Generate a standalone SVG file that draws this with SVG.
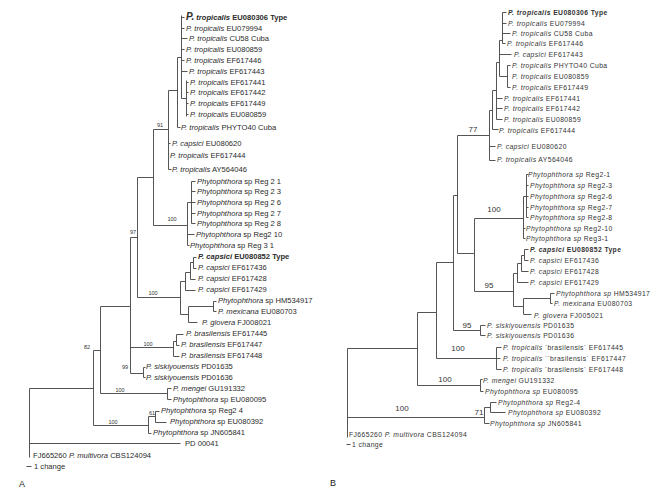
<svg xmlns="http://www.w3.org/2000/svg" width="656" height="491" viewBox="0 0 656 491">
<style>
.t{font-family:"Liberation Sans",Arial,sans-serif;font-size:7.6px;fill:#2b2b2b}
.r{font-family:"Liberation Sans",Arial,sans-serif;font-size:6.8px;letter-spacing:0.4px;fill:#333}
.i{font-style:italic}
.b{font-weight:bold}
.bs{font-family:"Liberation Sans",Arial,sans-serif;font-size:5.5px;fill:#333;text-anchor:middle}
.bsr{font-family:"Liberation Sans",Arial,sans-serif;font-size:8px;fill:#333;text-anchor:middle}
.edge{fill:none;stroke:#555;stroke-width:1}
.pl{font-family:"Liberation Sans",Arial,sans-serif;font-size:9px;fill:#222}
</style>
<rect width="656" height="491" fill="#fff"/>
<g id="connectors" transform="translate(0.5,0.5)">
<path class="edge" d="M29 388V457M29 388H93M29 443H180
M93 350V425M93 350H100M93 425H148
M148 416V433M148 416H155M148 433H151
M155 411V422M155 411H159M155 422H166
M100 306V393M100 306H130M100 393H167
M167 388V399M167 388H171M167 399H171
M130 237V373M130 237H137M130 347H173M130 373H143
M143 367V377M143 367H145M143 377H145
M173 341V356M173 341H176M173 356H179
M176 334V345M176 334H183M176 345H179
M137 177V297M137 177H153M137 297H180
M180 281V314M180 281H185M180 314H188
M188 306V322M188 306H213M188 322H197
M213 301V311M213 301H216M213 311H216
M185 272V290M185 272H190M185 290H195
M190 262V279M190 262H193M190 279H195
M193 257V268M193 257H196M193 268H196
M153 129V225M153 129H168M153 225H187
M187 202V245M187 202H191M187 234H194M187 245H189
M191 181V223M191 181H195M191 191H195M191 202H195M191 213H195M191 223H195
M168 90V169M168 90H177M168 143H170M168 169H171
M177 57V127M177 57H181M177 127H180
M181 15V98M181 98H186M181 17H184M181 28H184M181 38H187M181 49H184M181 60H184M181 71H187
M186 80V116M186 82H188M186 92H188M186 103H188M186 114H188
M26 466H31"/>
<path class="edge" d="M347 348V437M347 348H417M347 417H484
M484 407V423M484 407H490M484 423H489
M490 402V412M490 402H496M490 412H505
M417 312V385M417 312H436M417 385H480
M480 379V391M480 379H482M480 391H483
M436 262V358M436 262H453M436 358H496
M496 347V369M496 347H501M496 358H500M496 369H501
M453 195V330M453 195H457M453 330H480
M480 325V335M480 325H485M480 335H485
M457 135V253M457 135H489M457 253H474
M474 218V291M474 218H523M474 291H513
M523 196V238M523 196H526M523 228H525M523 238H525
M526 174V217M526 174H528M526 185H528M526 196H528M526 207H528M526 217H528
M513 273V306M513 273H517M513 306H523
M517 263V282M517 263H521M517 282H528
M521 255V271M521 255H524M521 271H528
M524 249V260M524 249H528M524 260H528
M523 298V314M523 298H550M523 314H531
M550 293V303M550 293H554M550 303H552
M489 110V160M489 110H492M489 146H495M489 160H495
M492 90V129M492 90H496M492 129H498
M496 62V119M496 62H499M496 98H502M496 108H502M496 119H502
M499 40V76M499 40H502M499 54H511M499 76H507
M502 12V43M502 12H506M502 23H506M502 33H510M502 43H505
M507 65V87M507 65H510M507 87H510
M346 444H350"/>
</g>
<g id="support-A">
<text class="bs" x="160" y="127">91</text>
<text class="bs" x="172" y="221">100</text>
<text class="bs" x="133" y="234">97</text>
<text class="bs" x="153" y="295">100</text>
<text class="bs" x="148" y="346">100</text>
<text class="bs" x="87" y="349">82</text>
<text class="bs" x="125" y="369">99</text>
<text class="bs" x="120" y="392">100</text>
<text class="bs" x="113" y="424">100</text>
<text class="bs" x="152" y="415">61</text>
</g>
<g id="support-B">
<text class="bsr" x="473" y="132">77</text>
<text class="bsr" x="494" y="212">100</text>
<text class="bsr" x="489" y="288">95</text>
<text class="bsr" x="467" y="328">95</text>
<text class="bsr" x="458" y="351">100</text>
<text class="bsr" x="445" y="382">100</text>
<text class="bsr" x="402" y="411">100</text>
<text class="bsr" x="479" y="415">71</text>
</g>
<g id="A-taxa">
<g id="a01"><text class="t b" x="186" y="20"><tspan class="i" font-size="10px">P.</tspan><tspan class="i"> tropicalis</tspan> EU080306 Type</text></g>
<g id="a02"><text class="t" x="186" y="31"><tspan class="i">P. tropicalis</tspan> EU079994</text></g>
<g id="a03"><text class="t" x="189" y="41"><tspan class="i">P. tropicalis</tspan> CU58 Cuba</text></g>
<g id="a04"><text class="t" x="186" y="52"><tspan class="i">P. tropicalis</tspan> EU080859</text></g>
<g id="a05"><text class="t" x="186" y="63"><tspan class="i">P. tropicalis</tspan> EF617446</text></g>
<g id="a06"><text class="t" x="189" y="74"><tspan class="i">P. tropicalis</tspan> EF617443</text></g>
<g id="a07"><text class="t" x="190" y="85"><tspan class="i">P. tropicalis</tspan> EF617441</text></g>
<g id="a08"><text class="t" x="190" y="95"><tspan class="i">P. tropicalis</tspan> EF617442</text></g>
<g id="a09"><text class="t" x="190" y="106"><tspan class="i">P. tropicalis</tspan> EF617449</text></g>
<g id="a10"><text class="t" x="190" y="117"><tspan class="i">P. tropicalis</tspan> EU080859</text></g>
<g id="a11"><text class="t" x="181" y="130"><tspan class="i">P. tropicalis</tspan> PHYTO40 Cuba</text></g>
<g id="a12"><text class="t" x="172" y="146"><tspan class="i">P. capsici</tspan> EU080620</text></g>
<g id="a13"><text class="t" x="170" y="158"><tspan class="i">P. tropicalis</tspan> EF617444</text></g>
<g id="a14"><text class="t" x="172" y="172"><tspan class="i">P. tropicalis</tspan> AY564046</text></g>
<g id="a15"><text class="t" x="197" y="184"><tspan class="i">Phytophthora</tspan> sp Reg 2 1</text></g>
<g id="a16"><text class="t" x="197" y="194"><tspan class="i">Phytophthora</tspan> sp  Reg 2 3</text></g>
<g id="a17"><text class="t" x="197" y="205"><tspan class="i">Phytophthora</tspan> sp Reg   2 6</text></g>
<g id="a18"><text class="t" x="197" y="216"><tspan class="i">Phytophthora</tspan> sp Reg 2 7</text></g>
<g id="a19"><text class="t" x="197" y="226"><tspan class="i">Phytophthora</tspan> sp Reg 2 8</text></g>
<g id="a20"><text class="t" x="196" y="237"><tspan class="i">Phytophthora</tspan> sp Reg2 10</text></g>
<g id="a21"><text class="t" x="190" y="248"><tspan class="i">Phytophthora</tspan> sp Reg 3 1</text></g>
<g id="a22"><text class="t b" x="198" y="259"><tspan class="i">P. capsici</tspan> EU080852 Type</text></g>
<g id="a23"><text class="t" x="198" y="270"><tspan class="i">P. capsici</tspan> EF617436</text></g>
<g id="a24"><text class="t" x="198" y="281"><tspan class="i">P. capsici</tspan> EF617428</text></g>
<g id="a25"><text class="t" x="198" y="292"><tspan class="i">P. capsici</tspan> EF617429</text></g>
<g id="a26"><text class="t" x="218" y="303"><tspan class="i">Phytophthora</tspan> sp HM534917</text></g>
<g id="a27"><text class="t" x="218" y="314"><tspan class="i">P. mexicana</tspan> EU080703</text></g>
<g id="a28"><text class="t" x="202" y="325"><tspan class="i">P. glovera</tspan> FJ008021</text></g>
<g id="a29"><text class="t" x="186" y="336"><tspan class="i">P. brasilensis</tspan> EF617445</text></g>
<g id="a30"><text class="t" x="181" y="347"><tspan class="i">P. brasilensis</tspan> EF617447</text></g>
<g id="a31"><text class="t" x="181" y="358"><tspan class="i">P. brasilensis</tspan> EF617448</text></g>
<g id="a32"><text class="t" x="146" y="369"><tspan class="i">P. siskiyouensis</tspan> PD01635</text></g>
<g id="a33"><text class="t" x="146" y="380"><tspan class="i">P. siskiyouensis</tspan> PD01636</text></g>
<g id="a34"><text class="t" x="173" y="391"><tspan class="i">P. mengei</tspan> GU191332</text></g>
<g id="a35"><text class="t" x="173" y="402"><tspan class="i">Phytophthora</tspan> sp EU080095</text></g>
<g id="a36"><text class="t" x="161" y="413"><tspan class="i">Phytophthora</tspan> sp Reg2 4</text></g>
<g id="a37"><text class="t" x="170" y="424"><tspan class="i">Phytophthora</tspan> sp EU080392</text></g>
<g id="a38"><text class="t" x="153" y="435"><tspan class="i">Phytophthora</tspan> sp JN605841</text></g>
<g id="a39"><text class="t" x="185" y="446">PD 00041</text></g>
<g id="a40"><text class="t" x="33" y="458">FJ665260 <tspan class="i">P. multivora</tspan> CBS124094</text></g>
<g id="a-scale"><text class="t" x="34" y="469">1 change</text></g>
<g id="a-label"><text class="pl" x="19" y="487">A</text></g>
</g>
<g id="B-taxa">
<g id="b01"><text class="r b" x="508" y="14.5"><tspan class="i">P. tropicalis</tspan> EU080306  Type</text></g>
<g id="b02"><text class="r" x="508" y="25.5"><tspan class="i">P. tropicalis</tspan> EU079994</text></g>
<g id="b03"><text class="r" x="512" y="35.5"><tspan class="i">P. tropicalis</tspan>  CU58 Cuba</text></g>
<g id="b04"><text class="r" x="507" y="45.5"><tspan class="i">P. tropicalis</tspan> EF617446</text></g>
<g id="b05"><text class="r" x="514" y="56.5"><tspan class="i">P. capsici</tspan> EF617443</text></g>
<g id="b06"><text class="r" x="512" y="67.5"><tspan class="i">P. tropicalis</tspan> PHYTO40 Cuba</text></g>
<g id="b07"><text class="r" x="512" y="78.5"><tspan class="i">P. tropicalis</tspan> EU080859</text></g>
<g id="b08"><text class="r" x="512" y="89.5"><tspan class="i">P. tropicalis</tspan> EF617449</text></g>
<g id="b09"><text class="r" x="504" y="100.5"><tspan class="i">P. tropicalis</tspan> EF617441</text></g>
<g id="b10"><text class="r" x="504" y="110.5"><tspan class="i">P. tropicalis</tspan> EF617442</text></g>
<g id="b11"><text class="r" x="504" y="121.5"><tspan class="i">P. tropicalis</tspan> EU080859</text></g>
<g id="b12"><text class="r" x="499" y="132.5"><tspan class="i">P. tropicalis</tspan> EF617444</text></g>
<g id="b13"><text class="r" x="497" y="148.5"><tspan class="i">P. capsici</tspan> EU080620</text></g>
<g id="b14"><text class="r" x="497" y="161.5"><tspan class="i">P. tropicalis</tspan> AY564046</text></g>
<g id="b15"><text class="r" x="528" y="176.5"><tspan class="i">Phytophthora sp</tspan> Reg2-1</text></g>
<g id="b16"><text class="r" x="530" y="187.5"><tspan class="i">Phytophthora sp</tspan> Reg2-3</text></g>
<g id="b17"><text class="r" x="530" y="198.5"><tspan class="i">Phytophthora sp</tspan> Reg2-6</text></g>
<g id="b18"><text class="r" x="530" y="209.5"><tspan class="i">Phytophthora sp</tspan> Reg2-7</text></g>
<g id="b19"><text class="r" x="530" y="219.5"><tspan class="i">Phytophthora sp</tspan> Reg2-8</text></g>
<g id="b20"><text class="r" x="526" y="230.5"><tspan class="i">Phytophthora sp</tspan> Reg2-10</text></g>
<g id="b21"><text class="r" x="526" y="240.5"><tspan class="i">Phytophthora sp</tspan> Reg3-1</text></g>
<g id="b22"><text class="r b" x="530" y="251.5"><tspan class="i">P. capsici</tspan> EU080852  Type</text></g>
<g id="b23"><text class="r" x="530" y="262.5"><tspan class="i">P. capsici</tspan> EF617436</text></g>
<g id="b24"><text class="r" x="530" y="273.5"><tspan class="i">P. capsici</tspan> EF617428</text></g>
<g id="b25"><text class="r" x="530" y="284.5"><tspan class="i">P. capsici</tspan> EF617429</text></g>
<g id="b26"><text class="r" x="556" y="295.5"><tspan class="i">Phytophthora sp</tspan> HM534917</text></g>
<g id="b27"><text class="r" x="554" y="305.5"><tspan class="i">P. mexicana</tspan> EU080703</text></g>
<g id="b28"><text class="r" x="534" y="317.5"><tspan class="i">P. glovera</tspan> FJ005021</text></g>
<g id="b29"><text class="r" x="487" y="327.5"><tspan class="i">P. siskiyouensis</tspan> PD01635</text></g>
<g id="b30"><text class="r" x="487" y="337.5"><tspan class="i">P. siskiyouensis</tspan> PD01636</text></g>
<g id="b31"><text class="r" x="503" y="349.5"><tspan class="i">P. tropicalis</tspan> `brasilensis´ EF617445</text></g>
<g id="b32"><text class="r" x="503" y="360.5"><tspan class="i">P. tropicalis</tspan>  ``brasilensis´ EF617447</text></g>
<g id="b33"><text class="r" x="503" y="371.5"><tspan class="i">P. tropicalis</tspan>  `brasilensis´ EF617448</text></g>
<g id="b34"><text class="r" x="483" y="382.5"><tspan class="i">P. mengei</tspan> GU191332</text></g>
<g id="b35"><text class="r" x="485" y="393.5"><tspan class="i">Phytophthora sp</tspan> EU080095</text></g>
<g id="b36"><text class="r" x="498" y="404.5"><tspan class="i">Phytophthora sp</tspan> Reg2-4</text></g>
<g id="b37"><text class="r" x="508" y="414.5"><tspan class="i">Phytophthora sp</tspan> EU080392</text></g>
<g id="b38"><text class="r" x="490" y="425.5"><tspan class="i">Phytophthora sp</tspan> JN605841</text></g>
<g id="b39"><text class="r" x="349" y="436.5">FJ665260 <tspan class="i">P. multivora</tspan> CBS124094</text></g>
<g id="b-scale"><text class="r" x="352" y="446.5">1 change</text></g>
<g id="b-label"><text class="pl" x="330" y="486">B</text></g>
</g>
</svg>
